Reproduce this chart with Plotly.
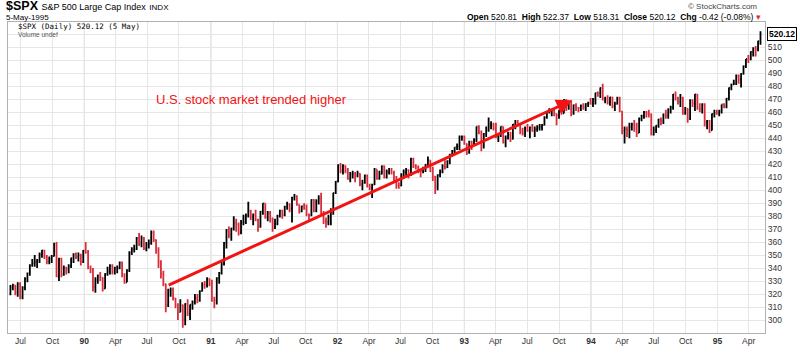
import pandas as pd
import plotly.graph_objects as go

# ---------------- data (weekly bars) ----------------
first_week = "1989-06-02"
first_open = 320.5

weekly_close = [
    # 1989
    325.5, 326.7, 321.4, 328.0, 318.0, 324.9, 331.8, 335.9, 342.2, 343.9, 344.7, 346.0, 350.5, 353.7, 348.8, 345.1,
    347.1, 349.2, 358.8, 333.7, 347.2, 335.1, 340.4, 339.1, 341.6, 347.6, 350.6, 348.7, 350.1, 344.8, 353.4,
    # 1990
    352.2, 339.9, 339.2, 325.8, 330.9, 333.6, 332.7, 324.2, 335.5, 337.9, 341.9, 337.2, 339.9, 340.1, 344.3, 335.1,
    329.1, 338.4, 352.0, 354.6, 354.6, 363.2, 358.7, 362.9, 355.4, 358.0, 359.0, 367.3, 361.6, 353.4, 344.9, 335.5,
    327.8, 311.5, 322.6, 323.4, 316.8, 311.3, 306.1, 311.5, 300.0, 312.5, 304.7, 311.9, 313.7, 317.0, 315.1, 322.2,
    327.0, 326.8, 331.8, 328.3,
    # 1991
    315.2, 315.2, 332.2, 336.1, 343.1, 359.4, 369.1, 365.7, 370.5, 374.9, 373.5, 367.5, 375.2, 375.4, 380.4, 384.2,
    379.0, 380.8, 377.3, 372.4, 383.4, 389.8, 379.4, 382.3, 377.9, 371.2, 374.1, 380.3, 384.2, 380.9, 387.2, 389.3,
    385.6, 394.2, 395.4, 389.1, 383.6, 387.6, 385.9, 381.3, 380.6, 392.5, 384.2, 391.3, 393.7, 382.6, 376.1, 375.2,
    379.1, 384.5, 397.9, 406.5,
    # 1992
    419.3, 415.1, 418.9, 415.5, 408.8, 411.9, 412.5, 411.4, 412.7, 404.4, 405.8, 411.3, 403.5, 401.6, 404.3, 416.0,
    409.0, 412.5, 418.5, 410.1, 414.0, 415.4, 413.5, 409.8, 403.7, 403.5, 411.8, 414.2, 415.6, 411.6, 424.2, 418.9,
    417.8, 414.9, 414.8, 417.1, 419.6, 422.9, 414.4, 410.5, 402.7, 411.7, 414.1, 418.7, 417.6, 422.4, 426.7, 430.2,
    432.9, 433.7, 441.3, 441.4, 435.7,
    # 1993
    429.0, 437.2, 436.1, 438.8, 448.9, 444.6, 434.2, 443.4, 446.1, 449.8, 450.2, 447.8, 441.4, 441.8, 448.9, 437.0,
    440.2, 442.3, 439.6, 450.6, 452.4, 450.1, 445.4, 443.7, 447.6, 445.8, 448.1, 445.8, 447.1, 448.1, 448.7, 450.1,
    456.2, 460.5, 461.3, 461.7, 458.8, 457.6, 461.3, 459.2, 469.5, 463.3, 467.8, 459.6, 465.4, 463.6, 463.1, 464.9,
    463.9, 466.4, 467.4, 466.5,
    # 1994
    469.9, 474.9, 474.7, 478.7, 469.8, 470.2, 467.7, 471.5, 464.7, 466.4, 471.1, 460.6, 445.7, 447.1, 446.4, 448.7,
    450.9, 447.8, 444.1, 454.9, 457.3, 460.1, 459.1, 458.5, 442.8, 446.2, 449.6, 454.4, 453.1, 458.3, 457.1, 461.9,
    463.7, 473.8, 470.9, 468.2, 471.2, 459.7, 462.7, 455.1, 469.1, 466.9, 473.8, 463.0, 462.4, 466.0, 452.3, 453.3,
    446.0, 458.8, 459.7, 459.3,
    # 1995
    460.7, 466.0, 464.8, 470.4, 478.7, 481.5, 482.0, 488.1, 485.4, 489.6, 495.5, 501.0, 500.7, 506.4, 509.2, 508.5,
    514.7, 520.12,
]

weekly_high = [
    # 1989
    327, 328, 327, 329, 329, 326, 333, 336.5, 343, 347, 350, 347, 352, 354, 354, 350,
    349, 350, 359.5, 360, 348, 348, 342, 341, 343, 348, 351.5, 352, 352, 351, 354,
    # 1990
    360, 354, 342, 340, 333, 335, 337, 333, 336, 341, 343, 343, 341, 342, 345, 345,
    336, 339, 353, 356, 358, 364, 367, 365, 364, 360, 362, 369, 369, 362, 356, 346,
    338, 328, 324, 325, 325, 317, 313, 316, 312, 313, 316, 312, 315, 320, 320, 323,
    329, 330, 333, 332,
    # 1991
    331, 318, 333, 337, 345, 360, 370, 372, 371, 380, 378, 375, 377, 381, 382, 391,
    385, 382, 385, 378, 384, 390, 390, 384, 384, 379, 378, 381, 385, 385, 388, 391,
    390, 395, 397, 396, 389, 388, 390, 389, 382, 393, 393, 393, 396, 398, 384, 379,
    381, 386, 398, 407,
    # 1992
    420, 421, 420, 419, 417, 414, 415, 414, 415, 413, 408, 412, 412, 405, 405, 417,
    416, 415, 419, 419, 416, 417, 417, 415, 411, 406, 413, 416, 417, 416, 425, 425,
    420, 419, 416, 418, 420, 426, 423, 418, 411, 412, 416, 420, 423, 423, 428, 431,
    433, 436, 442, 442, 442,
    # 1993
    436, 438, 438, 440, 449, 450, 446, 444, 449, 456, 453, 452, 452, 443, 449, 449,
    442, 445, 445, 451, 454, 454, 451, 448, 449, 451, 449, 451, 449, 450, 451, 451,
    457, 461, 463, 462, 462, 459, 462, 462, 470, 470, 468, 469, 466, 467, 464, 466,
    467, 467, 468, 471,
    # 1994
    471, 475, 476, 479, 482, 472, 473, 472, 472, 468, 472, 472, 461, 449, 449, 452,
    452, 454, 452, 456, 458, 461, 461, 462, 459, 449, 450, 455, 456, 459, 462, 463,
    465, 474, 476, 472, 474, 472, 464, 463, 470, 470, 474, 474, 467, 467, 467, 454,
    454, 459, 462, 462,
    # 1995
    462, 466, 467, 471, 479, 482, 485, 489, 489, 490, 496, 501, 504, 507, 510, 511,
    515, 522.37,
]

weekly_low = [
    # 1989
    319, 323, 319, 318, 316, 316, 323, 329, 334, 341, 341, 340, 344, 348, 347, 343,
    343, 344, 349, 333, 330, 333, 334, 335, 336, 340, 344, 347, 345, 342, 344,
    # 1990
    351, 339, 336, 322, 321, 328, 330, 322, 324, 334, 335, 335, 335, 336, 339, 333,
    328, 329, 337, 350, 352, 354, 357, 356, 354, 353, 355, 358, 360, 351, 340, 332,
    326, 306, 310, 318, 315, 309, 300, 306, 294, 296, 303, 300, 308, 312, 313, 314,
    322, 324, 325, 326,
    # 1991
    314, 309, 312, 328, 335, 342, 355, 363, 361, 369, 368, 365, 366, 373, 374, 379,
    377, 373, 376, 368, 371, 381, 378, 376, 375, 368, 370, 373, 379, 378, 380, 385,
    383, 375, 392, 388, 382, 383, 385, 380, 376, 380, 383, 383, 389, 381, 374, 371,
    373, 373, 381, 397,
    # 1992
    406, 413, 412, 413, 408, 406, 409, 406, 410, 403, 400, 405, 402, 400, 394, 404,
    408, 408, 412, 409, 409, 412, 412, 407, 401, 401, 403, 409, 410, 409, 411, 417,
    416, 413, 410, 413, 414, 418, 414, 407, 397, 400, 410, 413, 416, 417, 420, 426,
    428, 431, 431, 438, 435,
    # 1993
    427, 428, 431, 434, 437, 443, 430, 432, 441, 445, 447, 446, 440, 437, 441, 436,
    433, 439, 437, 439, 447, 449, 443, 442, 441, 445, 440, 445, 441, 445, 446, 446,
    450, 455, 459, 457, 457, 450, 455, 458, 459, 461, 462, 457, 458, 461, 460, 461,
    462, 461, 464, 466,
    # 1994
    464, 466, 472, 471, 469, 467, 466, 465, 463, 461, 466, 460, 443, 436, 441, 440,
    446, 445, 441, 444, 453, 455, 456, 456, 442, 442, 444, 448, 450, 451, 455, 455,
    459, 462, 469, 466, 464, 458, 458, 452, 454, 464, 461, 462, 460, 459, 449, 447,
    444, 446, 456, 458,
    # 1995
    457, 459, 463, 463, 469, 477, 481, 481, 482, 479, 489, 494, 498, 500, 503, 503,
    507, 512,
]

# trend arrow drawn on the chart (start -> end)
arrow_dates = ["1990-08-28", "1993-11-08"]
arrow_values = [326.3, 469.2]
note_text = "U.S. stock market trended higher"

y_tick_values = list(range(300, 530, 10))
last_close_label = "520.12"

# ---------------- layout geometry ----------------
W, H = 800, 353
PL, PR, PT, PB = 7, 765, 22, 341


def px_x(x):
    return (x - PL) / (PR - PL)


def px_y(y):
    return (PB - y) / (PB - PT)


dates = pd.date_range(first_week, periods=len(weekly_close), freq="W-FRI")
weekly_open = [first_open] + weekly_close[:-1]

RED = "#d92d3c"

fig = go.Figure()
fig.add_trace(go.Ohlc(
    x=dates, open=weekly_open, high=weekly_high, low=weekly_low, close=weekly_close,
    increasing=dict(line=dict(color="#000000", width=1.8)),
    decreasing=dict(line=dict(color=RED, width=1.8)),
    tickwidth=0.4, hoverinfo="skip", showlegend=False,
))

# x ticks (quarterly)
tick_dates = pd.date_range("1989-07-01", "1995-04-01", freq="QS-JAN")
tick_text = []
for d in tick_dates:
    if d.month == 1:
        tick_text.append("<b>%02d</b>" % (d.year % 100))
    else:
        tick_text.append(d.strftime("%b"))

# darker year grid lines
for d in tick_dates:
    if d.month == 1:
        fig.add_shape(type="line", xref="x", yref="paper", x0=d, x1=d, y0=0, y1=1,
                      line=dict(color="#c9c9c9", width=1), layer="below")

# trend arrow
fig.add_annotation(
    x=arrow_dates[1], y=arrow_values[1], ax=arrow_dates[0], ay=arrow_values[0],
    xref="x", yref="y", axref="x", ayref="y", text="", showarrow=True,
    arrowhead=2, arrowsize=1.05, arrowwidth=3, arrowcolor="#f01414", standoff=0,
)
fig.add_annotation(
    x=px_x(153), y=px_y(102), xref="paper", yref="paper", text=note_text,
    showarrow=False, xanchor="left", yanchor="middle",
    font=dict(family="Liberation Sans, Arial", size=13, color="#f01414"),
)

# last value box on the price axis
fig.add_annotation(
    x=1, y=weekly_close[-1], xref="paper", yref="y", text="<b>%s</b>" % last_close_label,
    showarrow=False, xanchor="left", yanchor="middle", xshift=2,
    font=dict(family="Liberation Sans, Arial", size=8.5, color="#000"),
    bgcolor="#ffffff", bordercolor="#000000", borderwidth=1, borderpad=1,
)

# header texts
hdr_font = "Liberation Sans, Arial"
fig.add_annotation(x=px_x(4), y=px_y(5.5), xref="paper", yref="paper", showarrow=False,
                   xanchor="left", yanchor="middle", borderpad=0,
                   text="<b>$SPX</b> <span style='font-size:9px'>S&P 500 Large Cap Index</span> <span style='font-size:8px'>INDX</span>",
                   font=dict(family=hdr_font, size=12.5, color="#000"))
fig.add_annotation(x=px_x(4), y=px_y(17.5), xref="paper", yref="paper", showarrow=False,
                   xanchor="left", yanchor="middle", text="5-May-1995", borderpad=0,
                   font=dict(family=hdr_font, size=8, color="#000"))
fig.add_annotation(x=px_x(759), y=px_y(6), xref="paper", yref="paper", showarrow=False,
                   xanchor="right", yanchor="middle", text="© StockCharts.com",
                   font=dict(family=hdr_font, size=8, color="#444"))
fig.add_annotation(x=px_x(763), y=px_y(16.5), xref="paper", yref="paper", showarrow=False,
                   xanchor="right", yanchor="middle",
                   text=("<b>Open</b> 520.81  <b>High</b> 522.37  <b>Low</b> 518.31  "
                         "<b>Close</b> 520.12  <b>Chg</b> -0.42 (-0.08%) <span style='color:#d92d3c'>▾</span>"),
                   font=dict(family=hdr_font, size=8.5, color="#000"))
fig.add_annotation(x=px_x(16), y=px_y(27), xref="paper", yref="paper", showarrow=False,
                   xanchor="left", yanchor="middle", text="$SPX (Daily) 520.12 (5 May)", borderpad=0,
                   font=dict(family="DejaVu Sans Mono", size=7.5, color="#000"))
fig.add_annotation(x=px_x(16), y=px_y(34.5), xref="paper", yref="paper", showarrow=False,
                   xanchor="left", yanchor="middle", text="Volume undef", borderpad=0,
                   font=dict(family=hdr_font, size=6.5, color="#555"))

fig.update_layout(
    width=W, height=H, margin=dict(l=PL, r=W - PR, t=PT, b=H - PB),
    paper_bgcolor="#ffffff", plot_bgcolor="#ffffff", showlegend=False,
    font=dict(family="Liberation Sans, Arial", size=8, color="#333"),
    xaxis=dict(
        range=["1989-05-26", "1995-05-18"], rangeslider=dict(visible=False),
        tickvals=list(tick_dates), ticktext=tick_text, tickangle=0,
        showgrid=True, gridcolor="#e6e6e6", gridwidth=1, ticks="",
        showline=True, linecolor="#b0b0b0", mirror=True, zeroline=False,
        tickfont=dict(size=8.5, color="#333"),
    ),
    yaxis=dict(
        range=[290, 529.5], side="right", tickvals=y_tick_values,
        ticktext=[str(v) if v < 520 else "" for v in y_tick_values],
        showgrid=True, gridcolor="#e6e6e6", gridwidth=1, ticks="",
        showline=True, linecolor="#b0b0b0", mirror=True, zeroline=False,
        tickfont=dict(size=8.5, color="#333"),
    ),
)

fig.write_html("out.html", config={"displayModeBar": False})
